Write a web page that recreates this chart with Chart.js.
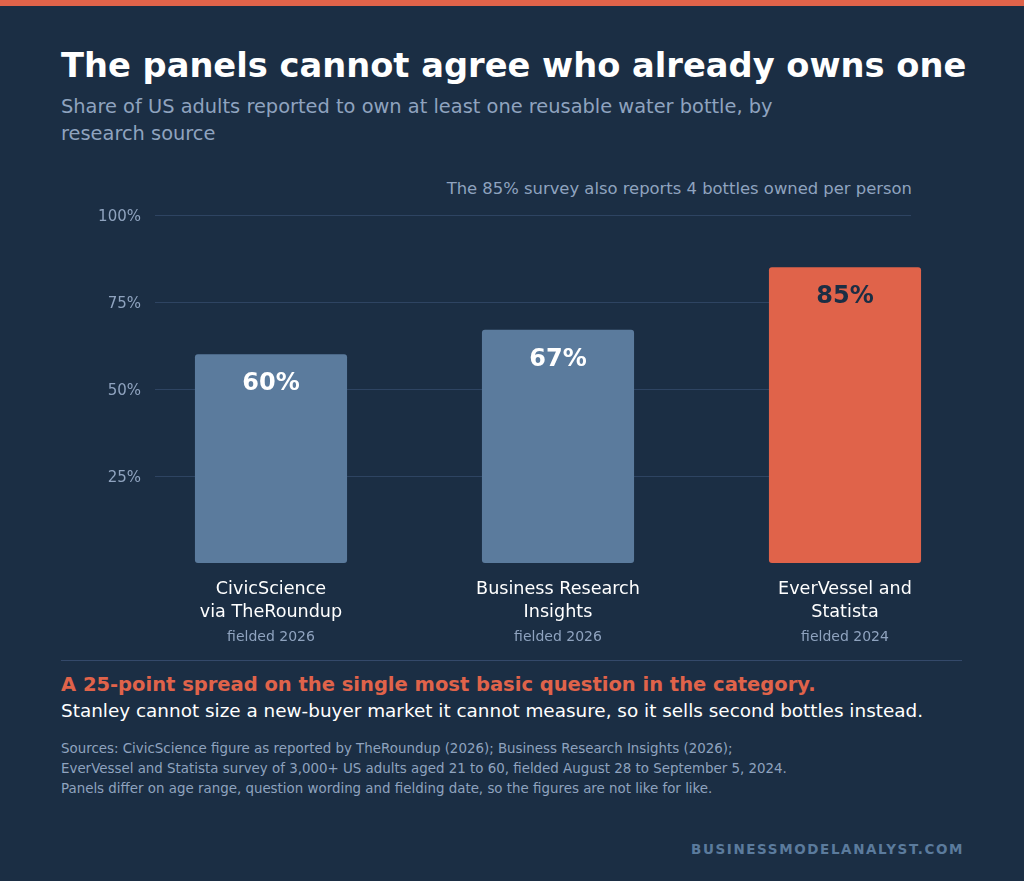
<!DOCTYPE html>
<html><head><meta charset="utf-8">
<script src="https://cdn.jsdelivr.net/npm/chart.js@4"></script>
<style>
body{margin:0;background:#1b2e44;font-family:"DejaVu Sans",sans-serif;}
#wrap{position:relative;width:1024px;height:881px;overflow:hidden;}
.t{position:absolute;white-space:nowrap;}
</style></head><body>
<div id="wrap">
<div style="position:absolute;left:0;top:0;width:1024px;height:6px;background:#e0634a"></div>
<div class="t" style="left:61px;top:46px;font-size:33.7px;font-weight:bold;color:#fff">The panels cannot agree who already owns one</div>
<div class="t" style="left:61px;top:93px;font-size:19.4px;line-height:27px;color:#8fa3bf;white-space:normal;width:760px">Share of US adults reported to own at least one reusable water bottle, by research source</div>
<div class="t" style="right:112px;top:179px;font-size:16.4px;color:#8fa3bf">The 85% survey also reports 4 bottles owned per person</div>
<canvas id="c" style="position:absolute;left:0;top:200px"></canvas>
<div style="position:absolute;left:61px;top:660px;width:901px;height:1px;background:#34496a"></div>
<div class="t" style="left:61px;top:673px;font-size:19.5px;font-weight:bold;color:#e0634a">A 25-point spread on the single most basic question in the category.</div>
<div class="t" style="left:61px;top:700px;font-size:18.4px;color:#fff">Stanley cannot size a new-buyer market it cannot measure, so it sells second bottles instead.</div>
<div class="t" style="left:61px;top:739px;font-size:13.4px;line-height:20px;color:#8fa3bf">Sources: CivicScience figure as reported by TheRoundup (2026); Business Research Insights (2026);<br>EverVessel and Statista survey of 3,000+ US adults aged 21 to 60, fielded August 28 to September 5, 2024.<br>Panels differ on age range, question wording and fielding date, so the figures are not like for like.</div>
<div class="t" style="right:60px;top:841px;font-size:13.5px;font-weight:bold;letter-spacing:1.6px;color:#5b7b9d">BUSINESSMODELANALYST.COM</div>
</div>
<script>
const sources = [['CivicScience','via TheRoundup'],['Business Research','Insights'],['EverVessel and','Statista']];
const fielded = ['fielded 2026','fielded 2026','fielded 2024'];
const shares = [60, 67, 85];
const yTicks = [25, 50, 75, 100];
const barColors = ['#5b7b9d','#5b7b9d','#e0634a'];
const valueColors = ['#ffffff','#ffffff','#1b2e44'];

const cv = document.getElementById('c');
cv.width = 1024; cv.height = 460;

const overlay = {
  id: 'overlay',
  beforeDatasetsDraw(chart) {
    const {ctx, scales: {y}} = chart;
    ctx.save();
    ctx.font = '15px "DejaVu Sans"';
    ctx.textAlign = 'right'; ctx.textBaseline = 'middle';
    yTicks.forEach(v => {
      const py = Math.round(y.getPixelForValue(v)) + 0.5;
      ctx.strokeStyle = '#2e4462'; ctx.lineWidth = 1;
      ctx.beginPath(); ctx.moveTo(155, py); ctx.lineTo(911, py); ctx.stroke();
      ctx.fillStyle = '#8fa3bf';
      ctx.fillText(v + '%', 141, py + 2);
    });
    ctx.restore();
  },
  afterDatasetsDraw(chart) {
    const {ctx, scales: {x, y}} = chart;
    ctx.save();
    ctx.textAlign = 'center'; ctx.textBaseline = 'middle';
    const base = y.getPixelForValue(0);
    shares.forEach((v, i) => {
      const px = x.getPixelForValue(i);
      ctx.font = 'bold 24px "DejaVu Sans"';
      ctx.fillStyle = valueColors[i];
      ctx.fillText(v + '%', px, y.getPixelForValue(v) + 30);
      ctx.font = '17.6px "DejaVu Sans"';
      ctx.fillStyle = '#ffffff';
      ctx.fillText(sources[i][0], px, base + 26);
      ctx.fillText(sources[i][1], px, base + 49);
      ctx.font = '14px "DejaVu Sans"';
      ctx.fillStyle = '#8fa3bf';
      ctx.fillText(fielded[i], px, base + 74);
    });
    ctx.restore();
  }
};

new Chart(cv, {
  type: 'bar',
  data: { labels: sources.map(s => s.join(' ')), datasets: [{ data: shares, backgroundColor: barColors, borderRadius: 3, borderSkipped: false, categoryPercentage: 1, barPercentage: 0.53 }] },
  options: {
    responsive: false, animation: false,
    layout: { padding: { left: 127.5, right: 35.5, top: 15, bottom: 97 } },
    plugins: { legend: { display: false }, tooltip: { enabled: false } },
    scales: {
      x: { display: false },
      y: { display: false, min: 0, max: 100 }
    }
  },
  plugins: [overlay]
});
</script>
</body></html>
